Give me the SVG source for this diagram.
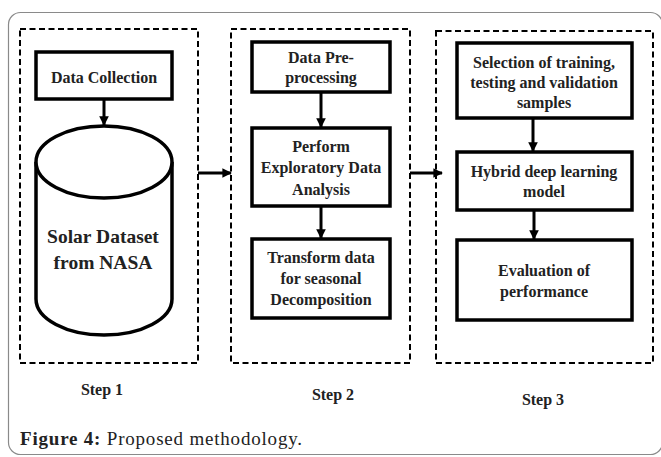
<svg xmlns="http://www.w3.org/2000/svg" width="661" height="457" viewBox="0 0 661 457">
<defs>
<style>
.frame{fill:none;stroke:#8a8a8a;stroke-width:1.2}
.step{fill:none;stroke:#000;stroke-width:2;stroke-dasharray:6,3.5}
.box{fill:#fff;stroke:#000;stroke-width:3.5}
.t{font-family:"Liberation Serif","DejaVu Serif Condensed","DejaVu Serif",serif;font-weight:bold;font-size:16px;fill:#222;text-anchor:middle}
.big{font-size:19.5px}
.lbl{font-size:16px}
.cap{font-family:"Liberation Serif","DejaVu Serif",serif;font-size:19px;fill:#222}
.conn{fill:none;stroke:#000;stroke-width:3}
</style>
<marker id="ah" viewBox="0 0 10 10" refX="9" refY="5" markerWidth="3.2" markerHeight="3.2" orient="auto" markerUnits="strokeWidth">
<path d="M0,0 L10,5 L0,10 z" fill="#000"/>
</marker>
</defs>
<rect class="frame" x="8.5" y="12.5" width="654" height="442" rx="12"/>

<g id="step1">
<rect class="step" x="20" y="29" width="178" height="334"/>
<text class="t lbl" x="102" y="395">Step 1</text>
</g>
<g id="step2">
<rect class="step" x="231" y="29" width="179" height="334"/>
<text class="t lbl" x="333" y="400">Step 2</text>
</g>
<g id="step3">
<rect class="step" x="436" y="31" width="217" height="332"/>
<text class="t lbl" x="543" y="405">Step 3</text>
</g>

<g id="data-collection">
<rect class="box" x="36" y="52" width="136" height="47"/>
<text class="t" x="104" y="83">Data Collection</text>
</g>
<g id="solar-dataset">
<path class="box" d="M36,162 L36,299 A68,36 0 0 0 172,299 L172,162"/>
<ellipse class="box" cx="104" cy="162" rx="68" ry="36"/>
<text class="t big" x="103" y="243">Solar Dataset</text>
<text class="t big" x="103" y="269">from NASA</text>
</g>

<g id="preprocessing">
<rect class="box" x="252" y="42" width="138" height="50"/>
<text class="t" x="321" y="63">Data Pre-</text>
<text class="t" x="321" y="83">processing</text>
</g>
<g id="eda">
<rect class="box" x="252" y="128" width="138" height="78"/>
<text class="t" x="321" y="152">Perform</text>
<text class="t" x="321" y="173">Exploratory Data</text>
<text class="t" x="321" y="195">Analysis</text>
</g>
<g id="transform">
<rect class="box" x="252" y="239" width="138" height="79"/>
<text class="t" x="321" y="263">Transform data</text>
<text class="t" x="321" y="284">for seasonal</text>
<text class="t" x="321" y="305">Decomposition</text>
</g>

<g id="selection">
<rect class="box" x="457" y="43" width="175" height="75"/>
<text class="t" x="544" y="68">Selection of training,</text>
<text class="t" x="544" y="88">testing and validation</text>
<text class="t" x="544" y="108">samples</text>
</g>
<g id="hybrid">
<rect class="box" x="457" y="152" width="175" height="58"/>
<text class="t" x="544" y="177">Hybrid deep learning</text>
<text class="t" x="544" y="197">model</text>
</g>
<g id="evaluation">
<rect class="box" x="457" y="240" width="175" height="80"/>
<text class="t" x="544" y="276">Evaluation of</text>
<text class="t" x="544" y="297">performance</text>
</g>

<g id="connectors">
<line class="conn" x1="104" y1="100" x2="104" y2="125" marker-end="url(#ah)"/>
<line class="conn" x1="198" y1="173" x2="231" y2="173" marker-end="url(#ah)"/>
<line class="conn" x1="321" y1="93" x2="321" y2="127" marker-end="url(#ah)"/>
<line class="conn" x1="321" y1="207" x2="321" y2="238" marker-end="url(#ah)"/>
<line class="conn" x1="410" y1="173" x2="442" y2="173" marker-end="url(#ah)"/>
<line class="conn" x1="533" y1="119" x2="533" y2="151" marker-end="url(#ah)"/>
<line class="conn" x1="534" y1="211" x2="534" y2="239" marker-end="url(#ah)"/>
</g>

<text class="cap" x="20" y="445" textLength="282" lengthAdjust="spacing"><tspan font-weight="bold">Figure 4:</tspan> Proposed methodology.</text>
</svg>
